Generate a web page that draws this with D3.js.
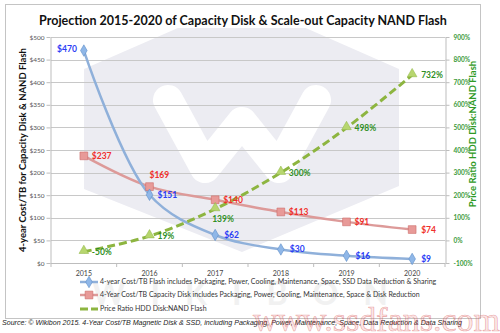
<!DOCTYPE html>
<html>
<head>
<meta charset="utf-8">
<script src="https://cdn.jsdelivr.net/npm/d3@7"></script>
<style>
  body { margin: 0; background: #fff; }
  svg { display: block; font-family: Lato, 'Open Sans', sans-serif; }
</style>
</head>
<body>
<script>
// Data
const years = ['2015', '2016', '2017', '2018', '2019', '2020'];
const flashCost = [470, 151, 62, 30, 16, 9];
const diskCost = [237, 169, 140, 113, 91, 74];
const priceRatio = [-50, 19, 139, 300, 498, 732];
const costTicks = [0, 50, 100, 150, 200, 250, 300, 350, 400, 450, 500];
const ratioTicks = [-100, 0, 100, 200, 300, 400, 500, 600, 700, 800, 900];
const legendLabels = [
  '4-year Cost/TB Flash includes Packaging, Power, Cooling, Maintenance, Space, SSD Data Reduction & Sharing',
  '4-Year Cost/TB Capacity Disk includes Packaging, Power, Cooling, Maintenance, Space & Disk Reduction',
  'Price Ratio HDD Disk:NAND Flash'
];

const W = 500, H = 333;
const plot = { left: 51, right: 445, top: 37, bottom: 263 };

const svg = d3.select('body').append('svg')
  .attr('width', W)
  .attr('height', H);

// Scales
const x = d3.scalePoint().domain(years).range([plot.left, plot.right]).padding(0.5);
const yCost = d3.scaleLinear().domain([0, 500]).range([plot.bottom, plot.top]);
const yRatio = d3.scaleLinear().domain([-100, 900]).range([plot.bottom, plot.top]);

// Outer frame
svg.append('rect')
  .attr('x', 5.5).attr('y', 4.5)
  .attr('width', 475).attr('height', 314)
  .attr('fill', '#fff')
  .attr('stroke', '#c4c4c4');

// Wikibon watermark (hexagon + W + wordmark)
svg.append('clipPath').attr('id', 'wm-clip')
  .append('rect').attr('x', 0).attr('y', 28).attr('width', W).attr('height', H);
const wm = svg.append('g').attr('clip-path', 'url(#wm-clip)');
wm.append('polygon')
  .attr('points', '84,69 242,0 399,69 399,186 242,252 84,189')
  .attr('fill', '#ececf2');
wm.append('polyline')
  .attr('points', '168,100 205,168 242,122 279,168 316,100')
  .attr('fill', 'none')
  .attr('stroke', '#fff')
  .attr('stroke-width', 30)
  .attr('stroke-linejoin', 'round')
  .attr('stroke-linecap', 'round');
svg.append('text')
  .attr('x', 92).attr('y', 305)
  .attr('textLength', 296)
  .attr('lengthAdjust', 'spacing')
  .attr('fill', '#f1f1f1')
  .style('font-size', '32px')
  .style('font-weight', 'bold')
  .text('WIKIBON');

// Gridlines
svg.append('g')
  .selectAll('line')
  .data(costTicks.filter(d => d > 0))
  .join('line')
  .attr('x1', plot.left).attr('x2', plot.right)
  .attr('y1', d => Math.round(yCost(d)) + 0.5)
  .attr('y2', d => Math.round(yCost(d)) + 0.5)
  .attr('stroke', '#c8c8c8');

// Axes
const tickStyle = (g, color) => {
  g.select('.domain').attr('stroke', '#bdbdbd');
  g.selectAll('.tick line').attr('stroke', '#bdbdbd');
  g.selectAll('.tick text').attr('fill', color)
    .style('font-size', '6.5px')
    .style('font-family', 'Lato, sans-serif');
};

svg.append('g')
  .attr('transform', `translate(${plot.left - 0.5},0)`)
  .call(d3.axisLeft(yCost).tickValues(costTicks).tickFormat(d => `$${d}`)
    .tickSize(4).tickSizeOuter(0).tickPadding(2))
  .call(g => tickStyle(g, '#555'));

svg.append('g')
  .attr('transform', `translate(${plot.right + 0.5},0)`)
  .call(d3.axisRight(yRatio).tickValues(ratioTicks).tickFormat(d => `${d}%`)
    .tickSize(4).tickSizeOuter(0).tickPadding(4))
  .call(g => tickStyle(g, '#3a9a3a'))
  .call(g => g.selectAll('.tick text').style('font-weight', 'bold'));

const bandEdges = d3.range(years.length + 1).map(i => plot.left + i * x.step());
const xAxis = svg.append('g');
xAxis.append('line')
  .attr('x1', plot.left).attr('x2', plot.right)
  .attr('y1', plot.bottom + 0.5).attr('y2', plot.bottom + 0.5)
  .attr('stroke', '#bdbdbd');
xAxis.selectAll('line.tk')
  .data(bandEdges)
  .join('line')
  .attr('class', 'tk')
  .attr('x1', d => d).attr('x2', d => d)
  .attr('y1', plot.bottom).attr('y2', plot.bottom + 4)
  .attr('stroke', '#bdbdbd');
xAxis.selectAll('text')
  .data(years)
  .join('text')
  .attr('x', d => x(d))
  .attr('y', 276)
  .attr('text-anchor', 'middle')
  .attr('fill', '#444')
  .style('font-size', '7px')
  .text(d => d);

// Lines
const line = (yScale) => d3.line()
  .x((d, i) => x(years[i]))
  .y(d => yScale(d))
  .curve(d3.curveCatmullRom.alpha(0.5));

svg.append('path')
  .datum(diskCost)
  .attr('d', line(yCost))
  .attr('fill', 'none')
  .attr('stroke', '#dd9a99')
  .attr('stroke-width', 2.5);

svg.append('path')
  .datum(flashCost)
  .attr('d', line(yCost))
  .attr('fill', 'none')
  .attr('stroke', '#8fb0da')
  .attr('stroke-width', 2.5);

svg.append('path')
  .datum(priceRatio)
  .attr('d', line(yRatio))
  .attr('fill', 'none')
  .attr('stroke', '#8db540')
  .attr('stroke-width', 3)
  .attr('stroke-dasharray', '8,4');

// Markers
const diamond = d3.symbol().type(d3.symbolDiamond).size(38);
const square = d3.symbol().type(d3.symbolSquare).size(60);
const triangle = d3.symbol().type(d3.symbolTriangle).size(40);

svg.append('g').selectAll('path')
  .data(diskCost)
  .join('path')
  .attr('transform', (d, i) => `translate(${x(years[i])},${yCost(d)})`)
  .attr('d', square)
  .attr('fill', '#e89a98')
  .attr('stroke', '#cc6b69')
  .attr('stroke-width', 0.6);

svg.append('g').selectAll('path')
  .data(flashCost)
  .join('path')
  .attr('transform', (d, i) => `translate(${x(years[i])},${yCost(d)})`)
  .attr('d', diamond)
  .attr('fill', '#8fb7e8')
  .attr('stroke', '#5f8fc8')
  .attr('stroke-width', 0.6);

svg.append('g').selectAll('path')
  .data(priceRatio)
  .join('path')
  .attr('transform', (d, i) => `translate(${x(years[i])},${yRatio(d) - 1})`)
  .attr('d', triangle)
  .attr('fill', '#b7d66f')
  .attr('stroke', '#8db540')
  .attr('stroke-width', 0.5);

// Data labels
const labelOffsets = {
  flash: [[-7, 'end', -2], [8, 'start', 0], [9, 'start', 0], [9, 'start', 0], [9, 'start', 0], [9, 'start', 0]],
  disk: [[8, 'start', 0], [0, 'start', -12], [8, 'start', 0], [8, 'start', 0], [8, 'start', 0], [9, 'start', 0]],
  ratio: [[8, 'start', 0], [8, 'start', 0], [-3, 'start', 10], [8, 'start', 0], [8, 'start', 0], [9, 'start', 0]]
};

const addLabels = (values, yScale, offsets, color, fmt) => {
  svg.append('g').selectAll('text')
    .data(values)
    .join('text')
    .attr('x', (d, i) => x(years[i]) + offsets[i][0])
    .attr('y', (d, i) => yScale(d) + offsets[i][2])
    .attr('dy', '0.35em')
    .attr('text-anchor', (d, i) => offsets[i][1])
    .attr('fill', color)
    .style('font-size', '8.5px')
    .style('font-weight', 'bold')
    .text(fmt);
};

addLabels(flashCost, yCost, labelOffsets.flash, '#2b3df5', d => `$${d}`);
addLabels(diskCost, yCost, labelOffsets.disk, '#f0302a', d => `$${d}`);
addLabels(priceRatio, yRatio, labelOffsets.ratio, '#2f8f25', d => `${d}%`);

// Title and axis titles
svg.append('text')
  .attr('x', 243).attr('y', 25)
  .attr('text-anchor', 'middle')
  .attr('fill', '#111')
  .style('font-size', '12.5px')
  .style('font-weight', 'bold')
  .text('Projection 2015-2020 of Capacity Disk & Scale-out Capacity NAND Flash');

svg.append('text')
  .attr('transform', 'translate(26,150) rotate(-90)')
  .attr('text-anchor', 'middle')
  .attr('fill', '#111')
  .style('font-size', '9.5px')
  .style('font-weight', 'bold')
  .text('4-year Cost/TB for Capacity Disk & NAND Flash');

svg.append('text')
  .attr('transform', 'translate(476,134) rotate(-90)')
  .attr('text-anchor', 'middle')
  .attr('fill', '#2f9a25')
  .style('font-size', '9.5px')
  .style('font-weight', 'bold')
  .text('Price Ratio HDD Disk:NAND Flash');

// Legend
const legend = svg.append('g');
const legendY = [282, 295, 309];
const legendStyles = [
  { stroke: '#8fb0da', dash: null, marker: diamond, fill: '#8fb7e8', mstroke: '#5f8fc8' },
  { stroke: '#dd9a99', dash: null, marker: square, fill: '#e89a98', mstroke: '#cc6b69' },
  { stroke: '#8db540', dash: '8,3', marker: null, fill: '#b7d66f', mstroke: '#8db540' }
];

legendLabels.forEach((label, i) => {
  const s = legendStyles[i];
  legend.append('line')
    .attr('x1', 80).attr('x2', 98)
    .attr('y1', legendY[i]).attr('y2', legendY[i])
    .attr('stroke', s.stroke)
    .attr('stroke-width', i === 2 ? 3 : 2.5)
    .attr('stroke-dasharray', s.dash);
  if (s.marker) {
    legend.append('path')
      .attr('transform', `translate(89,${legendY[i]})`)
      .attr('d', s.marker)
      .attr('fill', s.fill)
      .attr('stroke', s.mstroke)
      .attr('stroke-width', 0.6);
  }
  legend.append('text')
    .attr('x', 100).attr('y', legendY[i])
    .attr('dy', '0.35em')
    .attr('fill', '#333')
    .style('font-size', '7px')
    .text(label);
});

// Source note
svg.append('text')
  .attr('x', 2).attr('y', 325)
  .attr('fill', '#222')
  .attr('textLength', 460)
  .attr('lengthAdjust', 'spacingAndGlyphs')
  .style('font-family', '"Liberation Sans", Arial, sans-serif')
  .style('font-size', '7.5px')
  .style('font-style', 'italic')
  .text('Source: © Wikibon 2015. 4-Year Cost/TB Magnetic Disk & SSD, including Packaging, Power, Maintenance, Space, Data Reduction & Data Sharing');

// ssdfans watermark
svg.append('text')
  .attr('x', 500).attr('y', 331)
  .attr('text-anchor', 'end')
  .attr('fill', 'rgba(225,90,90,0.18)')
  .attr('stroke', 'rgba(210,60,60,0.45)')
  .attr('stroke-width', 0.6)
  .style('font-family', '"Liberation Serif", "DejaVu Serif", serif')
  .style('font-size', '34px')
  .text('www.ssdfans.com');
</script>
</body>
</html>
